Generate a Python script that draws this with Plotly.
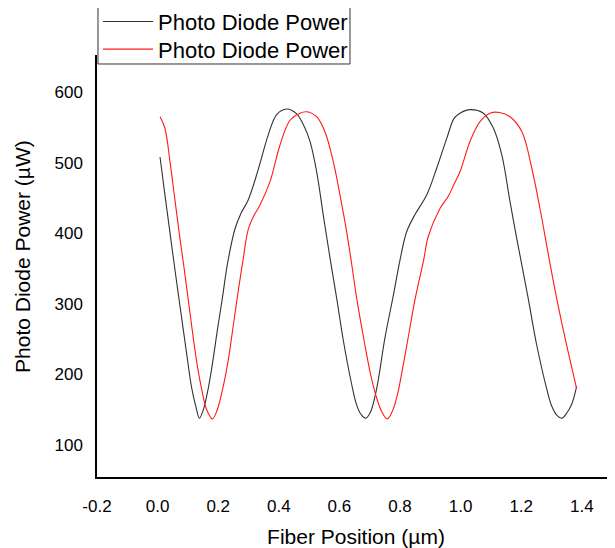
import plotly.graph_objects as go

# Fiber position (µm) and photo diode power (µW)
x_black = [0.008, 0.024, 0.038, 0.052, 0.067, 0.082, 0.097, 0.112, 0.126, 0.138,
           0.151, 0.167, 0.182, 0.197, 0.213, 0.232, 0.256, 0.275, 0.299, 0.332,
           0.365, 0.393, 0.426, 0.459, 0.484, 0.503, 0.525, 0.547, 0.569, 0.591,
           0.613, 0.641, 0.656, 0.672, 0.687, 0.702, 0.723, 0.750, 0.778, 0.800,
           0.822, 0.849, 0.888, 0.921, 0.954, 0.979, 0.998, 1.031, 1.075, 1.108,
           1.136, 1.163, 1.185, 1.199, 1.223, 1.251, 1.284, 1.300, 1.318, 1.334,
           1.350, 1.367, 1.383]
y_black = [508, 455, 410, 365, 318, 272, 226, 182, 155, 138,
           150, 180, 218, 262, 306, 360, 407, 428, 447, 490,
           539, 568, 576, 569, 551, 530, 487, 425, 365, 308,
           248, 185, 158, 143, 138, 146, 180, 251, 312, 362,
           402, 426, 454, 492, 534, 563, 570, 575, 570, 549,
           511, 445, 393, 362, 308, 242, 180, 156, 142, 138,
           145, 158, 183]

x_red = [0.008, 0.024, 0.041, 0.057, 0.072, 0.087, 0.102, 0.118, 0.132, 0.146,
         0.162, 0.181, 0.197, 0.214, 0.233, 0.250, 0.266, 0.282, 0.299, 0.318,
         0.338, 0.371, 0.404, 0.437, 0.470, 0.492, 0.525, 0.552, 0.580, 0.602,
         0.624, 0.641, 0.657, 0.684, 0.703, 0.722, 0.740, 0.758, 0.775, 0.792,
         0.807, 0.822, 0.849, 0.878, 0.893, 0.932, 0.959, 0.979, 0.998, 1.031,
         1.064, 1.097, 1.128, 1.163, 1.202, 1.235, 1.262, 1.293, 1.317, 1.345,
         1.383]
y_red = [565, 549, 501, 448, 398, 352, 303, 251, 210, 178,
         150, 137, 150, 178, 220, 270, 318, 362, 405, 425,
         440, 473, 525, 560, 570, 572, 565, 544, 501, 454,
         402, 355, 308, 242, 200, 168, 147, 137, 148, 172,
         205, 240, 305, 362, 395, 435, 452, 470, 487, 530,
         558, 570, 571, 565, 544, 492, 435, 362, 308, 251,
         180]

series_names = ["Photo Diode Power", "Photo Diode Power"]
series_colors = ["#333333", "#ff1a1a"]

x_ticks = [-0.2, 0.0, 0.2, 0.4, 0.6, 0.8, 1.0, 1.2, 1.4]
x_ticklabels = ["-0.2", "0.0", "0.2", "0.4", "0.6", "0.8", "1.0", "1.2", "1.4"]
y_ticks = [100, 200, 300, 400, 500, 600]

FONT = "Liberation Sans, Arial, sans-serif"

fig = go.Figure()
for xs, ys, name, col, lg in [(x_black, y_black, series_names[0], series_colors[0], "legend"),
                              (x_red, y_red, series_names[1], series_colors[1], "legend2")]:
    fig.add_trace(go.Scatter(x=xs, y=ys, mode="lines", name=name, legend=lg,
                             line=dict(color=col, width=1.1, shape="spline", smoothing=1.0)))

legend_common = dict(x=0.002, xanchor="left", yanchor="middle",
                     bgcolor="rgba(0,0,0,0)", borderwidth=0,
                     font=dict(size=22, family=FONT, color="black"),
                     itemwidth=50)

fig.update_layout(
    width=607, height=540,
    margin=dict(l=89, r=0, t=47, b=71, autoexpand=False),
    paper_bgcolor="white", plot_bgcolor="white",
    font=dict(family=FONT, color="black"),
    showlegend=True,
    legend=dict(y=1.0789, **legend_common),
    legend2=dict(y=1.0135, **legend_common),
    shapes=[dict(type="rect", xref="paper", yref="paper",
                 x0=0.0019, x1=0.4884, y0=0.9787, y1=1.1185,
                 line=dict(color="#333333", width=1), fillcolor="rgba(0,0,0,0)")],
    annotations=[dict(text="Photo Diode Power (µW)", xref="paper", yref="paper",
                      x=-0.1429, y=0.5237, xanchor="center", yanchor="middle",
                      textangle=-90, showarrow=False,
                      font=dict(size=21, family=FONT, color="black"))],
    xaxis=dict(range=[-0.2, 1.5096], tickvals=x_ticks, ticktext=x_ticklabels,
               showgrid=False, zeroline=False, showline=True, linecolor="black",
               linewidth=1.5, ticks="outside", ticklen=13, tickcolor="rgba(0,0,0,0)",
               tickfont=dict(size=17, family=FONT),
               title=dict(text="Fiber Position (µm)", font=dict(size=21, family=FONT), standoff=14)),
    yaxis=dict(range=[54.7, 652.4], tickvals=y_ticks,
               showgrid=False, zeroline=False, showline=True, linecolor="black",
               linewidth=1.5, ticks="outside", ticklen=9, tickcolor="rgba(0,0,0,0)",
               tickfont=dict(size=17, family=FONT)),
)

fig.write_html("out.html")
